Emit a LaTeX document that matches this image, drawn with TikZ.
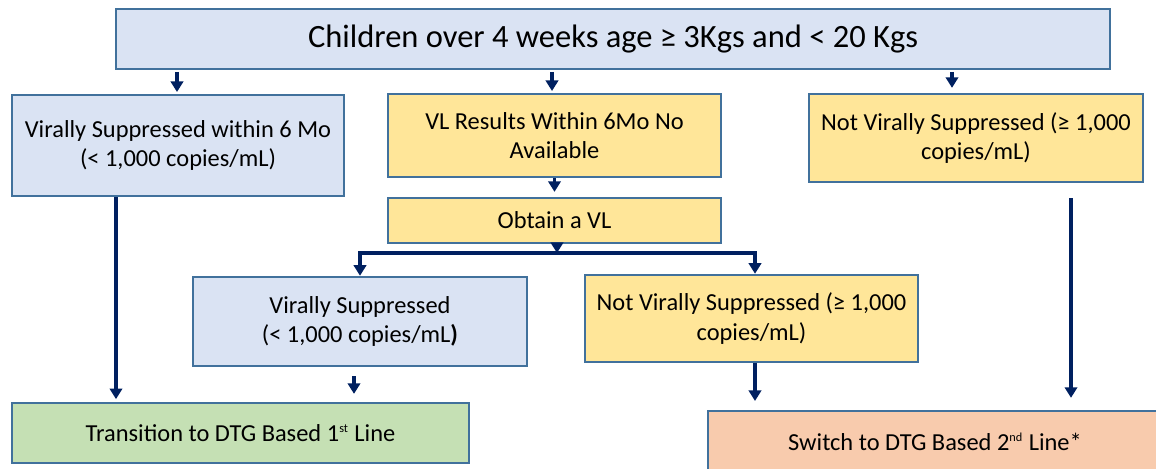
\documentclass[tikz,border=0pt]{standalone}
\usepackage{fontspec}
\setmainfont{Carlito}
\usetikzlibrary{arrows.meta}
\definecolor{boxblue}{HTML}{DAE3F3}
\definecolor{boxyellow}{HTML}{FFE699}
\definecolor{boxgreen}{HTML}{C5E0B4}
\definecolor{boxorange}{HTML}{F8CBAD}
\definecolor{boxline}{HTML}{41719C}
\definecolor{arrnavy}{HTML}{002060}
\begin{document}
\begin{tikzpicture}[x=0.02cm,y=-0.02cm,
    box/.style={draw=boxline,line width=1.4pt,align=center,inner sep=0pt,
      font=\fontsize{13.9}{16.8}\selectfont},
    arr/.style={draw=arrnavy,line width=2.1pt,
      -{Triangle[width=7pt,length=6pt]}}]
  \useasboundingbox (0,0) rectangle (1156,468);
  \node[box,fill=boxblue,minimum width=19.88cm,minimum height=1.2cm,
    font=\fontsize{18.5}{22}\selectfont] (top) at (613,39)
    {Children over 4 weeks age ≥ 3Kgs and < 20 Kgs};
  \node[box,fill=boxblue,minimum width=6.64cm,minimum height=2.02cm] (vs6) at (178,145.5)
    {Virally Suppressed within 6 Mo\\(< 1,000 copies/mL)};
  \node[box,fill=boxyellow,minimum width=6.66cm,minimum height=1.66cm] (nores) at (554.5,135.5)
    {VL Results Within 6Mo No\\Available};
  \node[box,fill=boxyellow,minimum width=6.68cm,minimum height=1.76cm] (nvs6) at (976,138)
    {Not Virally Suppressed (≥ 1,000\\copies/mL)};
  \node[box,fill=boxyellow,minimum width=6.66cm,minimum height=0.9cm] (obtain) at (554.5,220.5)
    {Obtain a VL};
  \node[box,fill=boxblue,minimum width=6.68cm,minimum height=1.78cm] (vs) at (360,321.5)
    {Virally Suppressed\\(< 1,000 copies/mL\textbf{)}};
  \node[box,fill=boxyellow,minimum width=6.66cm,minimum height=1.74cm] (nvs) at (751.5,318.5)
    {Not Virally Suppressed (≥ 1,000\\copies/mL)};
  \node[box,fill=boxgreen,minimum width=9.14cm,minimum height=1.2cm] (first) at (240.5,433)
    {Transition to DTG Based 1\textsuperscript{\scriptsize st} Line};
  \node[box,fill=boxorange,minimum width=9.08cm,minimum height=1.24cm] (second) at (935,442)
    {Switch to DTG Based 2\textsuperscript{\scriptsize nd} Line*};
  % arrow positions
  \coordinate (a1) at (177,0);
  \coordinate (a2) at (552,0);
  \coordinate (a3) at (952,0);
  \coordinate (l1) at (116,0);
  \coordinate (l2) at (354,0);
  \coordinate (l3) at (755,0);
  \coordinate (l4) at (1071,0);
  \coordinate (split) at (557,253);
  \draw[arr,shorten <=1pt,shorten >=1pt] (top.south -| a1) -- (vs6.north -| a1);
  \draw[arr,shorten <=1pt,shorten >=1pt] (top.south -| a2) -- (nores.north -| a2);
  \draw[arr,shorten <=1pt,shorten >=2.8pt] (top.south -| a3) -- (nvs6.north -| a3);
  \draw[arr,shorten >=2.8pt] (nores) -- (obtain);
  \draw[arr] (obtain.south -| split) -- (split);
  \draw[arr] (split) -| (vs.north);
  \draw[arr] (split) -| (nvs.north -| l3);
  \draw[arr,shorten >=1.5pt] (vs6.south -| l1) -- (first.north -| l1);
  \draw[arr,shorten <=5pt,shorten >=4.5pt] (vs.south -| l2) -- (first.north -| l2);
  \draw[arr,shorten >=5pt] (nvs.south -| l3) -- (second.north -| l3);
  \draw[arr,shorten <=8.5pt,shorten >=6.8pt] (nvs6.south -| l4) -- (second.north -| l4);
\end{tikzpicture}
\end{document}
